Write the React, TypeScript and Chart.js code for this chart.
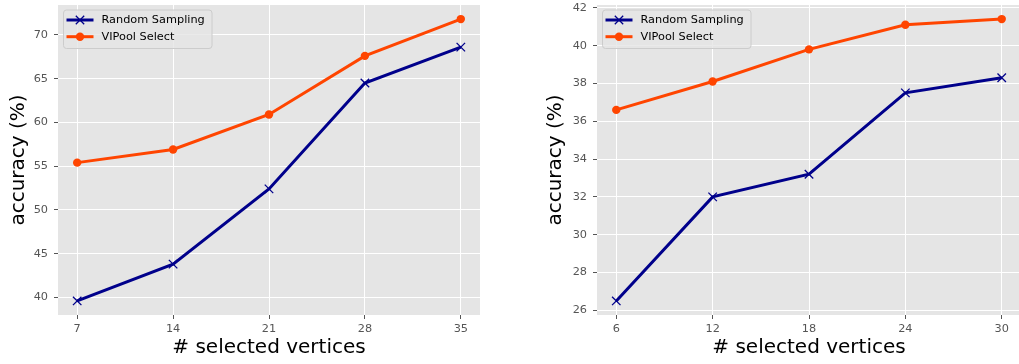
import React, { useEffect, useRef } from "react";
import { Chart, registerables } from "chart.js";
Chart.register(...registerables);

const seriesNames = ["Random Sampling", "VIPool Select"];
const seriesColors = ["#00008B", "#FF4500"];
const xTitle = "# selected vertices";
const yTitle = "accuracy (%)";

const xLeft = [7, 14, 21, 28, 35];
const randomLeft = [39.6, 43.8, 52.4, 64.5, 68.6];
const vipoolLeft = [55.4, 56.9, 60.9, 67.6, 71.8];
const yTicksLeft = [40, 45, 50, 55, 60, 65, 70];

const xRight = [6, 12, 18, 24, 30];
const randomRight = [26.5, 32.0, 33.2, 37.5, 38.3];
const vipoolRight = [36.6, 38.1, 39.8, 41.1, 41.4];
const yTicksRight = [26, 28, 30, 32, 34, 36, 38, 40, 42];

const FONT = "DejaVu Sans";

function padRange(vals: number[]) {
  const mn = Math.min(...vals);
  const mx = Math.max(...vals);
  const m = (mx - mn) * 0.05;
  return [mn - m, mx + m];
}

function drawMarker(ctx: CanvasRenderingContext2D, kind: number, cx: number, cy: number) {
  ctx.save();
  if (kind === 0) {
    const h = 4.2;
    ctx.strokeStyle = seriesColors[0];
    ctx.lineWidth = 1.3;
    ctx.beginPath();
    ctx.moveTo(cx - h, cy - h);
    ctx.lineTo(cx + h, cy + h);
    ctx.moveTo(cx - h, cy + h);
    ctx.lineTo(cx + h, cy - h);
    ctx.stroke();
  } else {
    ctx.fillStyle = seriesColors[1];
    ctx.beginPath();
    ctx.arc(cx, cy, 4.2, 0, Math.PI * 2);
    ctx.fill();
  }
  ctx.restore();
}

const bgPlugin = {
  id: "plotBg",
  beforeDraw(chart: any) {
    const { ctx, chartArea: a } = chart;
    ctx.save();
    ctx.fillStyle = "#E5E5E5";
    ctx.fillRect(a.left, a.top, a.right - a.left, a.bottom - a.top);
    ctx.restore();
  },
};

const legendPlugin = {
  id: "boxLegend",
  afterDatasetsDraw(chart: any) {
    const { ctx, chartArea: a } = chart;
    const bx = a.left + 5.5;
    const by = a.top + 5;
    const bw = 148.5;
    const bh = 38.5;
    ctx.save();
    ctx.beginPath();
    ctx.roundRect(bx, by, bw, bh, 3);
    ctx.fillStyle = "rgba(229,229,229,0.8)";
    ctx.fill();
    ctx.strokeStyle = "#CCCCCC";
    ctx.lineWidth = 1;
    ctx.stroke();
    seriesNames.forEach((name, i) => {
      const cy = by + 10 + i * 16.7;
      ctx.strokeStyle = seriesColors[i];
      ctx.lineWidth = 3;
      ctx.beginPath();
      ctx.moveTo(bx + 3, cy);
      ctx.lineTo(bx + 30, cy);
      ctx.stroke();
      drawMarker(ctx, i, bx + 16.5, cy);
      ctx.fillStyle = "#000000";
      ctx.font = `11.3px "${FONT}"`;
      ctx.textBaseline = "middle";
      ctx.textAlign = "left";
      ctx.fillText(name, bx + 38, cy);
    });
    ctx.restore();
  },
};

type PanelProps = {
  left: number;
  width: number;
  padLeft: number;
  yAxisWidth: number;
  xs: number[];
  random: number[];
  vipool: number[];
  yTicks: number[];
};

function Panel({ left, width, padLeft, yAxisWidth, xs, random, vipool, yTicks }: PanelProps) {
  const ref = useRef<HTMLCanvasElement>(null);
  useEffect(() => {
    if (!ref.current) return;
    const [xMin, xMax] = padRange(xs);
    const [yMin, yMax] = padRange([...random, ...vipool]);
    const tickFont = { family: FONT, size: 11.3 };
    const chart = new Chart(ref.current, {
      type: "line",
      data: {
        datasets: [
          {
            label: seriesNames[0],
            data: xs.map((x, i) => ({ x, y: random[i] })),
            borderColor: seriesColors[0],
            backgroundColor: seriesColors[0],
            borderWidth: 3,
            pointStyle: "crossRot",
            pointRadius: 6,
            pointBorderWidth: 1.3,
            pointBorderColor: seriesColors[0],
            tension: 0,
          },
          {
            label: seriesNames[1],
            data: xs.map((x, i) => ({ x, y: vipool[i] })),
            borderColor: seriesColors[1],
            backgroundColor: seriesColors[1],
            borderWidth: 3,
            pointStyle: "circle",
            pointRadius: 4.2,
            pointBorderWidth: 0,
            tension: 0,
          },
        ],
      },
      options: {
        responsive: false,
        animation: false,
        devicePixelRatio: 1,
        layout: { autoPadding: false, padding: { left: padLeft, top: 5, right: 0, bottom: 0 } },
        plugins: { legend: { display: false }, tooltip: { enabled: false } },
        scales: {
          x: {
            type: "linear",
            min: xMin,
            max: xMax,
            afterBuildTicks: (s: any) => {
              s.ticks = xs.map((v) => ({ value: v }));
            },
            afterFit: (s: any) => {
              s.height = 49;
              s.paddingLeft = 0;
              s.paddingRight = 0;
            },
            grid: { color: "#FFFFFF", lineWidth: 1, tickColor: "#555555", tickLength: 4, tickWidth: 1 },
            border: { display: false },
            ticks: { font: tickFont, color: "#555555", padding: 3, maxRotation: 0 },
            title: {
              display: true,
              text: xTitle,
              color: "#000000",
              font: { family: FONT, size: 20 },
              padding: { top: 0, bottom: 4 },
            },
          },
          y: {
            type: "linear",
            min: yMin,
            max: yMax,
            afterBuildTicks: (s: any) => {
              s.ticks = yTicks.map((v) => ({ value: v }));
            },
            afterFit: (s: any) => {
              s.width = yAxisWidth;
              s.paddingTop = 0;
              s.paddingBottom = 0;
            },
            grid: { color: "#FFFFFF", lineWidth: 1, tickColor: "#555555", tickLength: 4, tickWidth: 1 },
            border: { display: false },
            ticks: { font: tickFont, color: "#555555", padding: 6 },
            title: {
              display: true,
              text: yTitle,
              color: "#000000",
              font: { family: FONT, size: 20 },
              padding: { top: 7, bottom: 0 },
            },
          },
        },
      },
      plugins: [bgPlugin, legendPlugin],
    } as any);
    return () => chart.destroy();
  }, []);
  return (
    <canvas
      ref={ref}
      width={width}
      height={364}
      style={{ position: "absolute", left, top: 0, width, height: 364 }}
    />
  );
}

export default function App() {
  return (
    <div
      style={{
        position: "absolute",
        left: 0,
        top: 0,
        width: 1019,
        height: 364,
        overflow: "hidden",
        background: "#FFFFFF",
      }}
    >
      <Panel left={0} width={480} padLeft={0} yAxisWidth={58} xs={xLeft} random={randomLeft} vipool={vipoolLeft} yTicks={yTicksLeft} />
      <Panel left={500} width={521} padLeft={37} yAxisWidth={60} xs={xRight} random={randomRight} vipool={vipoolRight} yTicks={yTicksRight} />
    </div>
  );
}
